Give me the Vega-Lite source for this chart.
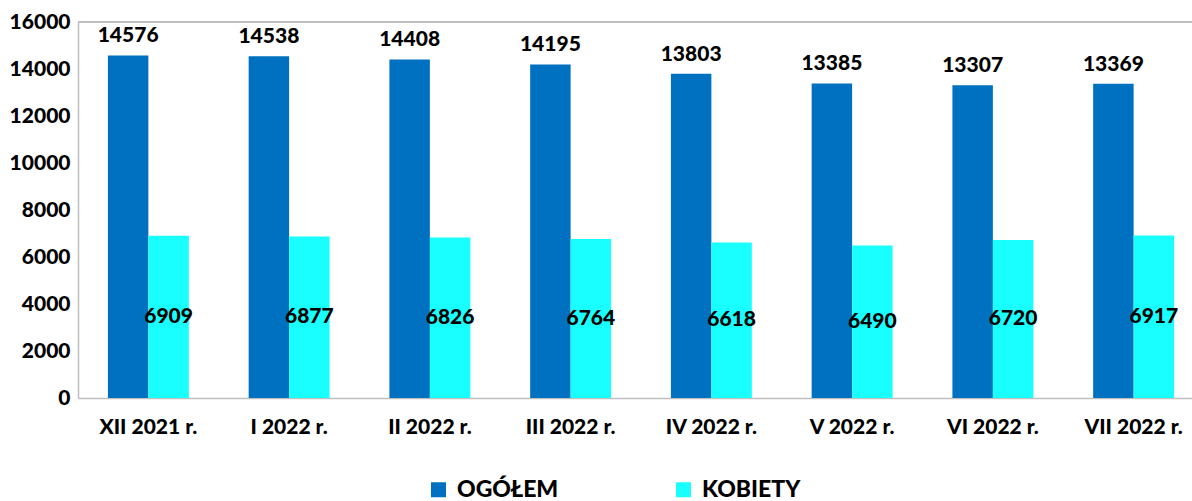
{
  "$schema": "https://vega.github.io/schema/vega-lite/v6.json",
  "width": 1114,
  "height": 376,
  "autosize": {"type": "none"},
  "padding": {"left": 78, "top": 22, "right": 0, "bottom": 103},
  "background": "white",
  "config": {
    "view": {"stroke": null},
    "font": "Lato",
    "axis": {"labelFont": "Lato", "labelFontWeight": 900, "labelColor": "#000000", "labelFontSize": 21, "grid": false, "ticks": false, "domainColor": "#BFBFBF", "domainWidth": 1.5, "title": null}
  },
  "data": {"values": [
    {"month": "XII 2021 r.", "series": "OGÓŁEM", "value": 14576},
    {"month": "I 2022 r.", "series": "OGÓŁEM", "value": 14538},
    {"month": "II 2022 r.", "series": "OGÓŁEM", "value": 14408},
    {"month": "III 2022 r.", "series": "OGÓŁEM", "value": 14195},
    {"month": "IV 2022 r.", "series": "OGÓŁEM", "value": 13803},
    {"month": "V 2022 r.", "series": "OGÓŁEM", "value": 13385},
    {"month": "VI 2022 r.", "series": "OGÓŁEM", "value": 13307},
    {"month": "VII 2022 r.", "series": "OGÓŁEM", "value": 13369},
    {"month": "XII 2021 r.", "series": "KOBIETY", "value": 6909},
    {"month": "I 2022 r.", "series": "KOBIETY", "value": 6877},
    {"month": "II 2022 r.", "series": "KOBIETY", "value": 6826},
    {"month": "III 2022 r.", "series": "KOBIETY", "value": 6764},
    {"month": "IV 2022 r.", "series": "KOBIETY", "value": 6618},
    {"month": "V 2022 r.", "series": "KOBIETY", "value": 6490},
    {"month": "VI 2022 r.", "series": "KOBIETY", "value": 6720},
    {"month": "VII 2022 r.", "series": "KOBIETY", "value": 6917}
  ]},
  "layer": [
    {
      "mark": {"type": "bar"},
      "encoding": {
        "x": {"field": "month", "type": "nominal", "sort": null,
          "scale": {"range": [0, 1126], "paddingInner": 0.425, "paddingOuter": 0.2125},
          "axis": {"labelAngle": 0, "labelPadding": 18, "domain": true}},
        "xOffset": {"field": "series", "type": "nominal", "sort": ["OGÓŁEM", "KOBIETY"], "scale": {"paddingInner": 0, "paddingOuter": 0}},
        "y": {"field": "value", "type": "quantitative", "scale": {"domain": [0, 16000]},
          "axis": {"values": [0, 2000, 4000, 6000, 8000, 10000, 12000, 14000, 16000], "labelPadding": 8, "domain": true, "format": "d"}},
        "color": {"field": "series", "type": "nominal",
          "scale": {"domain": ["OGÓŁEM", "KOBIETY"], "range": ["#0070C0", "#19FFFF"]},
          "legend": {"title": null, "orient": "none", "legendX": 349, "legendY": 456, "direction": "horizontal",
            "symbolType": "square", "symbolSize": 225, "symbolStrokeWidth": 0, "labelFont": "Lato", "labelFontWeight": 900,
            "labelFontSize": 23, "labelColor": "#000000", "labelOffset": 7, "columnPadding": 113}}
      }
    },
    {
      "transform": [{"filter": "datum.series === 'OGÓŁEM'"}],
      "mark": {"type": "text", "baseline": "bottom", "dy": -9, "fontSize": 21, "fontWeight": 900, "font": "Lato", "color": "#000000"},
      "encoding": {
        "x": {"field": "month", "type": "nominal", "sort": null},
        "xOffset": {"field": "series", "type": "nominal", "sort": ["OGÓŁEM", "KOBIETY"]},
        "y": {"field": "value", "type": "quantitative", "scale": {"domain": [0, 16000]}, "axis": null},
        "text": {"field": "value", "type": "quantitative", "format": "d"}
      }
    },
    {
      "transform": [{"filter": "datum.series === 'KOBIETY'"}],
      "mark": {"type": "text", "baseline": "middle", "fontSize": 21, "fontWeight": 900, "font": "Lato", "color": "#000000"},
      "encoding": {
        "x": {"field": "month", "type": "nominal", "sort": null},
        "xOffset": {"field": "series", "type": "nominal", "sort": ["OGÓŁEM", "KOBIETY"]},
        "y": {"field": "value", "type": "quantitative", "scale": {"domain": [0, 32000]}, "axis": null},
        "text": {"field": "value", "type": "quantitative", "format": "d"}
      }
    },
    {
      "mark": {"type": "rule", "color": "#BFBFBF", "strokeWidth": 1.5},
      "encoding": {
        "y": {"datum": 16000, "scale": {"domain": [0, 16000]}, "axis": null}
      }
    }
  ],
  "resolve": {"scale": {"y": "independent"}}
}
